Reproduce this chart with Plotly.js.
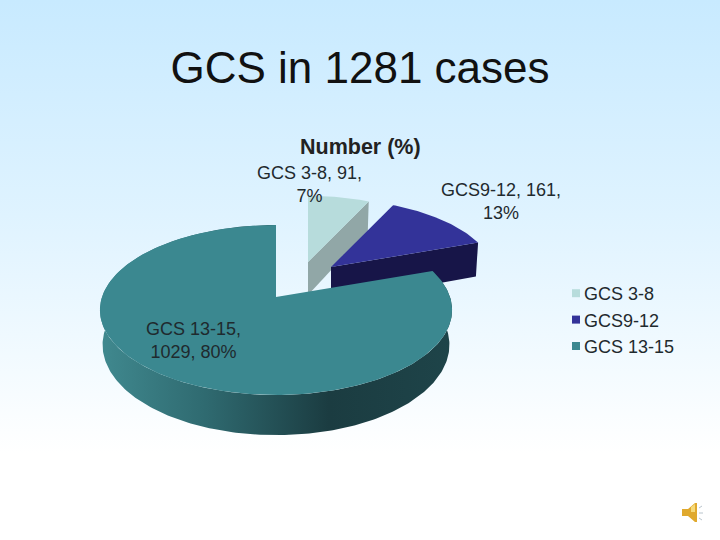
<!DOCTYPE html>
<html>
<head>
<meta charset="utf-8">
<script src="https://cdn.plot.ly/plotly-3.0.1.min.js"></script>
<style>
html,body{margin:0;padding:0;width:720px;height:540px;overflow:hidden;
background:linear-gradient(to bottom,#c8eaff 0%,#dff3ff 40%,#ffffff 84%,#ffffff 100%);}
#chart{width:720px;height:540px;}
</style>
</head>
<body>
<div id="chart"></div>
<script>
var categories = ['GCS 3-8', 'GCS9-12', 'GCS 13-15'];
var counts = [91, 161, 1029];
var percents = [7, 13, 80];
var topColors = ['#b7dcdc', '#333399', '#3b8890'];
var wallColors = ['#91a7a7', '#171548', '#1e4449'];
var chartTitle = 'GCS in 1281 cases';
var pieTitle = 'Number (%)';

// pixel-like scene: axes run 0-720 / 540-0
var apexes = [[308, 262], [331, 267], [276, 297]];
var scales = [0.92, 0.94, 1];
var wallHeights = [36, 38, 34];
var RX = 174, RY = 83, PERSP = 0.153;

var total = counts.reduce(function (a, b) { return a + b; }, 0);
var startAngles = [], endAngles = [], run = 0;
counts.forEach(function (c) {
  startAngles.push(run / total * 360);
  run += c;
  endAngles.push(run / total * 360);
});

function project(i, deg) {
  var t = deg * Math.PI / 180, u = Math.sin(t), v = Math.cos(t);
  var s = scales[i] / (1 + PERSP * v);
  return { x: apexes[i][0] + RX * u * s, y: apexes[i][1] - RY * v * s, s: s };
}
function lower(i, p) {
  return { x: apexes[i][0] + (p.x - apexes[i][0]) * 0.985, y: p.y + wallHeights[i] * p.s };
}
function arc(i) {
  var pts = [], a0 = startAngles[i], a1 = endAngles[i], n = Math.ceil(a1 - a0);
  for (var k = 0; k <= n; k++) pts.push(project(i, a0 + (a1 - a0) * k / n));
  return pts;
}
function face(i, color) {
  var pts = arc(i);
  var xs = [apexes[i][0]].concat(pts.map(function (p) { return p.x; }), [apexes[i][0]]);
  var ys = [apexes[i][1]].concat(pts.map(function (p) { return p.y; }), [apexes[i][1]]);
  return { type: 'scatter', mode: 'lines', x: xs, y: ys, fill: 'toself', fillcolor: color,
    line: { width: 0 }, hoverinfo: 'skip', showlegend: false };
}
function cutWall(i, color) {
  var apex = { x: apexes[i][0], y: apexes[i][1], s: scales[i] };
  var e = project(i, endAngles[i]), eb = lower(i, e);
  var ab = { x: apex.x, y: apex.y + wallHeights[i] * apex.s };
  return { type: 'scatter', mode: 'lines', x: [apex.x, e.x, eb.x, ab.x, apex.x], y: [apex.y, e.y, eb.y, ab.y, apex.y],
    fill: 'toself', fillcolor: color, line: { width: 0 }, hoverinfo: 'skip', showlegend: false };
}
function outerWall(i) {
  var pts = arc(i), low = pts.map(function (p) { return lower(i, p); }).reverse();
  var all = pts.concat(low);
  all.push(pts[0]);
  return { type: 'scatter', mode: 'lines', x: all.map(function (p) { return p.x; }), y: all.map(function (p) { return p.y; }),
    fill: 'toself', line: { width: 0 }, hoverinfo: 'skip', showlegend: false,
    fillgradient: { type: 'horizontal', colorscale: [[0, '#40898f'], [0.3, '#2f6a70'], [0.65, '#1b3c41'], [1, wallColors[2]]] } };
}

var traces = [
  cutWall(0, wallColors[0]), face(0, topColors[0]),
  cutWall(1, wallColors[1]), face(1, topColors[1]),
  outerWall(2), face(2, topColors[2])
];
categories.forEach(function (c, i) {
  traces.push({ type: 'scatter', mode: 'markers', x: [-50], y: [-50], name: c, legendgroup: c,
    marker: { symbol: 'square', size: 8, color: topColors[i] }, hoverinfo: 'skip', showlegend: true });
});

var labelTexts = [
  categories[0] + ', ' + counts[0] + ',<br>' + percents[0] + '%',
  categories[1] + ', ' + counts[1] + ',<br>' + percents[1] + '%',
  categories[2] + ',<br>' + counts[2] + ', ' + percents[2] + '%'
];
var labelPos = [[309, 184], [501, 201], [193, 340]];
var annos = labelTexts.map(function (t, i) {
  return { x: labelPos[i][0], y: labelPos[i][1], xref: 'x', yref: 'y', text: t, showarrow: false,
    font: { family: 'Liberation Sans', size: 18, color: '#1f2a2e' }, align: 'center' };
});
annos.push({ x: 360, y: 147, xref: 'x', yref: 'y', text: '<b>' + pieTitle + '</b>', showarrow: false,
  font: { family: 'Liberation Sans', size: 21.5, color: '#222222' } });

var layout = {
  width: 720, height: 540,
  margin: { l: 0, r: 0, t: 0, b: 0 },
  paper_bgcolor: 'rgba(0,0,0,0)', plot_bgcolor: 'rgba(0,0,0,0)',
  title: { text: chartTitle, font: { family: 'Liberation Sans', size: 44, color: '#111111' },
    x: 0.5, xanchor: 'center', y: 0.874, yanchor: 'middle', xref: 'paper', yref: 'paper' },
  xaxis: { range: [0, 720], visible: false, fixedrange: true },
  yaxis: { range: [540, 0], visible: false, fixedrange: true },
  showlegend: true,
  legend: { x: 544 / 720, y: 1 - 275 / 540, xanchor: 'left', yanchor: 'top', bgcolor: 'rgba(0,0,0,0)',
    font: { family: 'Liberation Sans', size: 18, color: '#1f2a2e' }, tracegroupgap: 0, itemclick: false, itemdoubleclick: false },
  annotations: annos,
  shapes: [
    { type: 'path', xref: 'x', yref: 'y', line: { width: 0 }, fillcolor: '#e0a92e',
      path: 'M682,509 L688,509 L695,503 L697,503 L697,522 L695,522 L688,516 L682,516 Z' },
    { type: 'path', xref: 'x', yref: 'y', line: { width: 0 }, fillcolor: '#f6da7a',
      path: 'M691,507 L695,504 L695,512 L691,512 Z' },
    { type: 'line', xref: 'x', yref: 'y', x0: 699, y0: 508, x1: 702, y1: 506, line: { color: '#b9c4cc', width: 1 } },
    { type: 'line', xref: 'x', yref: 'y', x0: 699, y0: 513, x1: 703, y1: 513, line: { color: '#b9c4cc', width: 1 } },
    { type: 'line', xref: 'x', yref: 'y', x0: 699, y0: 518, x1: 702, y1: 520, line: { color: '#b9c4cc', width: 1 } }
  ]
};

Plotly.newPlot('chart', traces, layout, { displayModeBar: false, staticPlot: false }).then(function (gd) {
  gd.querySelectorAll('.legendsymbols').forEach(function (el) {
    el.setAttribute('transform', 'translate(12,0)');
  });
});
</script>
</body>
</html>
